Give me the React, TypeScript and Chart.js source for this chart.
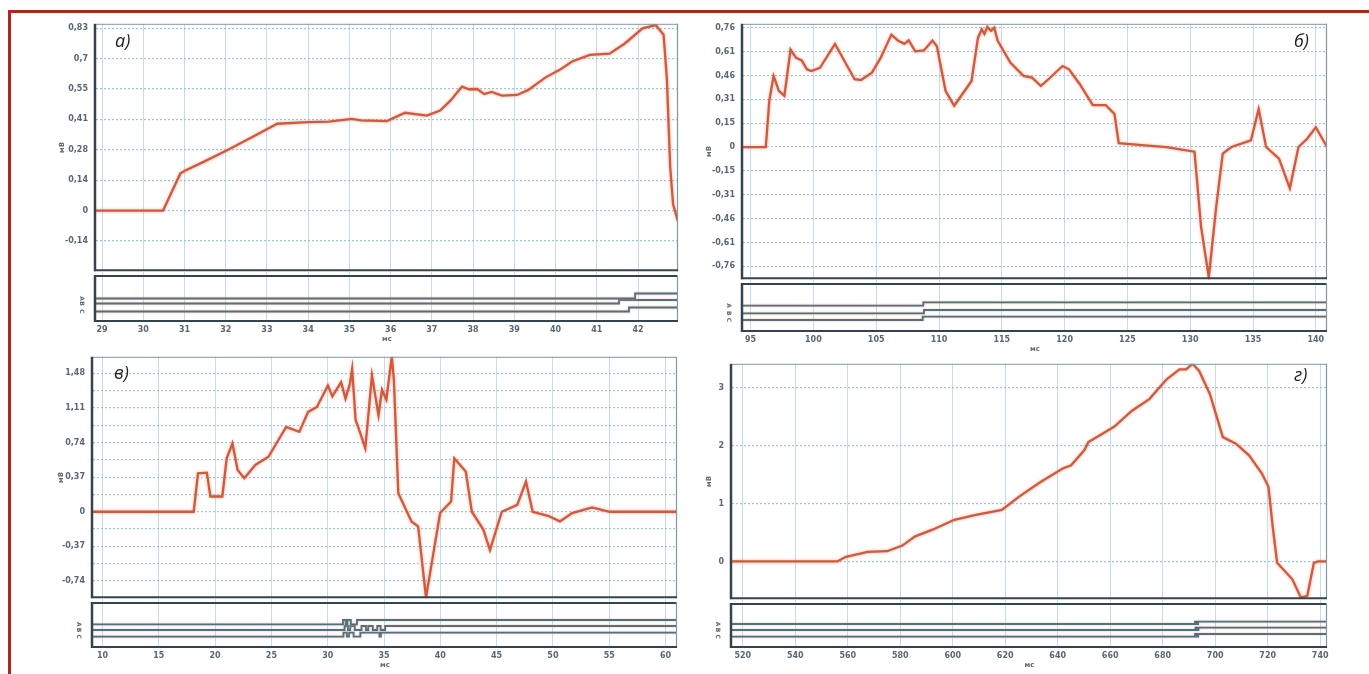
import React, { useEffect, useRef } from 'react';
import { Chart, registerables } from 'chart.js';

Chart.register(...registerables);

// ---------- panel а) ----------
const aTime = [28.85, 30.48, 30.9, 31.01, 31.5, 32.08, 32.6, 33.25, 34.0, 34.5, 35.06, 35.28, 35.91, 36.35, 36.88, 37.2, 37.45, 37.73, 37.9, 38.1, 38.27, 38.45, 38.7, 39.07, 39.34, 39.76, 40.1, 40.4, 40.83, 41.31, 41.68, 42.11, 42.43, 42.62, 42.7, 42.78, 42.85, 42.97];
const aVolt = [0, 0, 0.169, 0.181, 0.225, 0.279, 0.33, 0.395, 0.402, 0.405, 0.417, 0.41, 0.407, 0.445, 0.432, 0.455, 0.5, 0.564, 0.552, 0.553, 0.53, 0.54, 0.523, 0.526, 0.549, 0.606, 0.64, 0.678, 0.708, 0.714, 0.76, 0.829, 0.844, 0.8, 0.6, 0.2, 0.03, -0.05];
const aXTicks = [29, 30, 31, 32, 33, 34, 35, 36, 37, 38, 39, 40, 41, 42];
const aYTicks = [-0.1383, 0, 0.1383, 0.2767, 0.415, 0.5533, 0.6917, 0.83];
const aYLabels = ['-0,14', '0', '0,14', '0,28', '0,41', '0,55', '0,7', '0,83'];
const aChA_t = [28.85, 41.93, 42.97];
const aChA_v = [4.7, 5.7, 5.7];
const aChB_t = [28.85, 41.54, 42.97];
const aChB_v = [3.7, 4.4, 4.4];
const aChC_t = [28.85, 41.78, 42.97];
const aChC_v = [2.1, 2.9, 2.9];

// ---------- panel б) ----------
const bTime = [94.4, 96.21, 96.49, 96.83, 97.25, 97.69, 98.18, 98.62, 99.07, 99.48, 99.83, 100.52, 101.72, 103.28, 103.79, 104.66, 105.35, 106.21, 106.73, 107.24, 107.59, 108.1, 108.8, 109.48, 109.83, 110.52, 111.21, 112.59, 113.1, 113.4, 113.62, 113.85, 114.14, 114.4, 114.66, 115.69, 116.73, 117.41, 118.11, 118.8, 119.83, 120.35, 121.21, 122.24, 123.28, 123.97, 124.31, 126.38, 128.1, 130.34, 130.86, 131.48, 132.07, 132.59, 133.28, 134.83, 135.45, 136.04, 137.07, 137.93, 138.62, 139.31, 140.0, 140.89];
const bVolt = [0, 0, 0.295, 0.453, 0.358, 0.326, 0.621, 0.568, 0.552, 0.495, 0.484, 0.505, 0.657, 0.432, 0.427, 0.474, 0.568, 0.716, 0.678, 0.657, 0.68, 0.61, 0.615, 0.678, 0.642, 0.358, 0.263, 0.421, 0.695, 0.75, 0.72, 0.765, 0.74, 0.76, 0.678, 0.537, 0.453, 0.442, 0.389, 0.438, 0.516, 0.495, 0.4, 0.267, 0.267, 0.21, 0.025, 0.01, 0, -0.03, -0.505, -0.83, -0.379, -0.042, 0, 0.042, 0.242, 0, -0.074, -0.263, 0, 0.053, 0.126, 0];
const bXTicks = [95, 100, 105, 110, 115, 120, 125, 130, 135, 140];
const bYTicks = [-0.76, -0.608, -0.456, -0.304, -0.152, 0, 0.152, 0.304, 0.456, 0.608, 0.76];
const bYLabels = ['-0,76', '-0,61', '-0,46', '-0,31', '-0,15', '0', '0,15', '0,31', '0,46', '0,61', '0,76'];
const bChA_t = [94.4, 108.75, 140.89];
const bChA_v = [5.06, 5.71, 5.71];
const bChB_t = [94.4, 108.8, 140.89];
const bChB_v = [3.6, 4.23, 4.23];
const bChC_t = [94.4, 108.7, 140.89];
const bChC_v = [2.31, 2.94, 2.94];

// ---------- panel в) ----------
const vTime = [9.16, 18.1, 18.48, 19.27, 19.58, 20.64, 21.03, 21.54, 22.0, 22.59, 23.57, 24.74, 26.31, 27.48, 28.26, 29.04, 30.02, 30.41, 31.19, 31.58, 31.97, 32.17, 32.48, 32.75, 33.34, 33.93, 34.51, 34.82, 35.21, 35.69, 35.88, 36.27, 37.44, 38.03, 38.73, 39.98, 40.96, 41.24, 42.26, 42.8, 43.82, 44.41, 45.46, 46.83, 47.61, 48.2, 49.57, 50.62, 51.71, 53.47, 55.04, 61.02];
const vVolt = [0, 0, 0.411, 0.418, 0.163, 0.163, 0.571, 0.73, 0.447, 0.358, 0.5, 0.588, 0.907, 0.854, 1.067, 1.12, 1.35, 1.233, 1.386, 1.209, 1.368, 1.527, 0.978, 0.89, 0.677, 1.457, 1.031, 1.304, 1.198, 1.66, 1.403, 0.198, -0.103, -0.156, -0.918, -0.014, 0.11, 0.571, 0.429, 0, -0.191, -0.411, 0, 0.074, 0.322, 0, -0.043, -0.103, -0.014, 0.046, 0, 0];
const vXTicks = [10, 15, 20, 25, 30, 35, 40, 45, 50, 55, 60];
const vYTicks = [-0.74, -0.555, -0.37, -0.185, 0, 0.185, 0.37, 0.555, 0.74, 0.925, 1.11, 1.295, 1.48];
const vYLabels = ['-0,74', '', '-0,37', '', '0', '', '0,37', '', '0,74', '', '1,11', '', '1,48'];
const vChA_t = [9.16, 31.36, 31.6, 31.75, 32.05, 32.6, 61.02];
const vChA_v = [4.84, 5.71, 4.84, 5.71, 4.84, 5.71, 5.71];
const vChB_t = [9.16, 31.5, 31.8, 32.0, 32.4, 33.0, 33.4, 33.6, 34.0, 34.4, 34.7, 35.1, 61.02];
const vChB_v = [3.67, 4.49, 3.67, 4.49, 3.67, 4.49, 3.67, 4.49, 3.67, 4.49, 3.67, 4.49, 4.49];
const vChC_t = [9.16, 31.4, 31.7, 31.9, 32.3, 32.9, 34.6, 34.72, 61.02];
const vChC_v = [2.31, 3.12, 2.31, 3.12, 2.31, 3.12, 2.31, 3.12, 3.12];

// ---------- panel г) ----------
const gTime = [515.9, 556.0, 559.3, 567.6, 575.0, 580.8, 585.7, 592.3, 600.6, 608.8, 618.7, 625.3, 633.6, 641.9, 645.1, 650.1, 651.7, 655.9, 661.6, 668.3, 674.9, 681.5, 686.4, 688.9, 691.4, 693.9, 698.0, 702.9, 707.9, 712.9, 717.8, 720.3, 721.9, 723.6, 729.4, 732.6, 735.1, 737.6, 739.2, 742.6];
const gVolt = [0, 0, 0.08, 0.165, 0.177, 0.274, 0.434, 0.548, 0.719, 0.804, 0.89, 1.118, 1.375, 1.603, 1.66, 1.917, 2.059, 2.173, 2.327, 2.601, 2.801, 3.143, 3.314, 3.314, 3.41, 3.286, 2.886, 2.145, 2.031, 1.831, 1.517, 1.289, 0.605, -0.023, -0.308, -0.622, -0.593, -0.023, 0, 0];
const gXTicks = [520, 540, 560, 580, 600, 620, 640, 660, 680, 700, 720, 740];
const gYTicks = [0, 1, 2, 3];
const gYLabels = ['0', '1', '2', '3'];
const gChA_t = [515.9, 692.3, 692.9, 693.5, 742.6];
const gChA_v = [5.0, 5.5, 5.0, 5.5, 5.5];
const gChB_t = [515.9, 692.5, 693.0, 693.6, 742.6];
const gChB_v = [3.75, 4.25, 3.75, 4.25, 4.25];
const gChC_t = [515.9, 692.3, 692.9, 693.5, 742.6];
const gChC_v = [2.35, 2.92, 2.35, 2.92, 2.92];

const channelNames = ['A', 'B', 'C'];

// ---------- look ----------
const AXIS_W = 60;
const PAD = 12;
const X_BAND = 28;
const CURVE = '#d3593c';
const LOGIC = '#52707d';
const GRID_V = '#c6dbe7';
const GRID_H = '#9fc4d9';
const DARK = '#34444f';
const THIN = '#7f96a4';
const LABEL = '#5a6772';
const TICK_FONT = { family: '"DejaVu Sans", Arial, sans-serif', size: 8, weight: 'bold' as const, lineHeight: 1.2 };
const TITLE_FONT = { family: '"DejaVu Sans", Arial, sans-serif', size: 7, weight: 'bold' as const, lineHeight: 1.2 };

// soft halo drawn around each trace
const glowPlugin = {
  id: 'glow',
  beforeDatasetDraw(chart: any, _args: any, opts: any) {
    const ctx = chart.ctx;
    ctx.save();
    ctx.shadowColor = opts.color;
    ctx.shadowBlur = opts.blur;
  },
  afterDatasetDraw(chart: any) {
    chart.ctx.restore();
  },
};

// plot borders, the double separator and the A/B/C channel marks
const framePlugin = {
  id: 'frame',
  afterDraw(chart: any, _args: any, opts: any) {
    const { ctx, chartArea: a } = chart;
    const line = (x1: number, y1: number, x2: number, y2: number, w: number, c: string) => {
      ctx.beginPath();
      ctx.lineWidth = w;
      ctx.strokeStyle = c;
      ctx.moveTo(x1, y1);
      ctx.lineTo(x2, y2);
      ctx.stroke();
    };
    ctx.save();
    if (opts.kind === 'main') {
      line(a.left, a.top + 0.5, a.right, a.top + 0.5, 1, THIN);
      line(a.right - 0.5, a.top, a.right - 0.5, a.bottom, 1.2, THIN);
      line(a.left - 2, a.bottom - 1, a.right, a.bottom - 1, 2, DARK);
      line(a.left - 1, a.top, a.left - 1, a.bottom, 2.5, DARK);
    } else {
      line(a.left - 2, a.top + 4, a.right, a.top + 4, 2, DARK);
      line(a.right - 0.5, a.top + 3, a.right - 0.5, a.bottom, 1.2, THIN);
      line(a.left - 2, a.bottom - 1, a.right, a.bottom - 1, 2, DARK);
      line(a.left - 1, a.top + 3, a.left - 1, a.bottom, 2.5, DARK);
      const ys = chart.scales.y;
      ctx.fillStyle = LABEL;
      ctx.font = 'bold 6px "DejaVu Sans", Arial, sans-serif';
      ctx.textAlign = 'center';
      ctx.textBaseline = 'middle';
      (opts.letters || []).forEach((l: any) => {
        ctx.save();
        ctx.translate(a.left - 14, ys.getPixelForValue(l.value));
        ctx.rotate(Math.PI / 2);
        ctx.fillText(l.text, 0, 0);
        ctx.restore();
      });
    }
    ctx.restore();
  },
};

type Box = { L: number; R: number; T: number; MB: number; SB: number };
type PanelDef = {
  tag: string;
  tagX: number;
  tagY: number;
  time: number[];
  volt: number[];
  xMin: number;
  xMax: number;
  xTicks: number[];
  yMin: number;
  yMax: number;
  yTicks: number[];
  yLabels: string[];
  titlePad: number;
  channels: { t: number[]; v: number[] }[];
  box: Box;
};

const panels: PanelDef[] = [
  {
    tag: 'а)', tagX: 115, tagY: 31,
    time: aTime, volt: aVolt, xMin: 28.854, xMax: 42.97, xTicks: aXTicks,
    yMin: -0.2757, yMax: 0.8496, yTicks: aYTicks, yLabels: aYLabels, titlePad: 21.8,
    channels: [{ t: aChA_t, v: aChA_v }, { t: aChB_t, v: aChB_v }, { t: aChC_t, v: aChC_v }],
    box: { L: 96, R: 678, T: 23, MB: 272, SB: 322 },
  },
  {
    tag: 'б)', tagX: 1294, tagY: 31,
    time: bTime, volt: bVolt, xMin: 94.395, xMax: 140.89, xTicks: bXTicks,
    yMin: -0.842, yMax: 0.785, yTicks: bYTicks, yLabels: bYLabels, titlePad: 22.3,
    channels: [{ t: bChA_t, v: bChA_v }, { t: bChB_t, v: bChB_v }, { t: bChC_t, v: bChC_v }],
    box: { L: 743, R: 1327, T: 23, MB: 280, SB: 332 },
  },
  {
    tag: 'в)', tagX: 114, tagY: 363,
    time: vTime, volt: vVolt, xMin: 9.156, xMax: 61.02, xTicks: vXTicks,
    yMin: -0.924, yMax: 1.656, yTicks: vYTicks, yLabels: vYLabels, titlePad: 23.5,
    channels: [{ t: vChA_t, v: vChA_v }, { t: vChB_t, v: vChB_v }, { t: vChC_t, v: vChC_v }],
    box: { L: 93, R: 677, T: 356, MB: 599, SB: 648 },
  },
  {
    tag: 'г)', tagX: 1294, tagY: 365,
    time: gTime, volt: gVolt, xMin: 515.9, xMax: 742.6, xTicks: gXTicks,
    yMin: -0.651, yMax: 3.41, yTicks: gYTicks, yLabels: gYLabels, titlePad: 33.3,
    channels: [{ t: gChA_t, v: gChA_v }, { t: gChB_t, v: gChB_v }, { t: gChC_t, v: gChC_v }],
    box: { L: 732, R: 1327, T: 363, MB: 600, SB: 648 },
  },
];

function xScale(p: PanelDef, withLabels: boolean): any {
  return {
    type: 'linear',
    min: p.xMin,
    max: p.xMax,
    afterBuildTicks: (s: any) => {
      s.ticks = p.xTicks.map((value) => ({ value }));
    },
    ticks: withLabels
      ? {
          display: true,
          autoSkip: false,
          maxRotation: 0,
          padding: 3.5,
          font: TICK_FONT,
          color: LABEL,
          callback: (_v: any, i: number) => String(p.xTicks[i]),
        }
      : { display: false },
    grid: { color: GRID_V, lineWidth: 1, drawTicks: false },
    border: { display: false },
    title: withLabels
      ? { display: true, text: 'мс', font: TITLE_FONT, color: LABEL, padding: { top: 0, bottom: 6.8 } }
      : { display: false },
    afterFit: (s: any) => {
      s.height = withLabels ? X_BAND : 0;
    },
  };
}

function MainPlot({ p }: { p: PanelDef }) {
  const ref = useRef<HTMLCanvasElement>(null);
  const { L, R, T, MB } = p.box;
  const w = AXIS_W + (R - L) + PAD;
  const h = PAD + (MB - T) + PAD;
  useEffect(() => {
    const chart = new Chart(ref.current as HTMLCanvasElement, {
      type: 'line',
      data: {
        datasets: [
          {
            data: p.time.map((x, i) => ({ x, y: p.volt[i] })),
            borderColor: CURVE,
            borderWidth: 2.3,
            pointRadius: 0,
            tension: 0,
          },
        ],
      },
      options: {
        animation: false,
        responsive: false,
        events: [],
        layout: { padding: { top: PAD, right: PAD, bottom: PAD, left: 0 } },
        plugins: {
          legend: { display: false },
          tooltip: { enabled: false },
          glow: { color: 'rgba(226,140,115,0.7)', blur: 3 },
          frame: { kind: 'main' },
        } as any,
        scales: {
          x: xScale(p, false),
          y: {
            type: 'linear',
            min: p.yMin,
            max: p.yMax,
            afterBuildTicks: (s: any) => {
              s.ticks = p.yTicks.map((value) => ({ value }));
            },
            ticks: {
              autoSkip: false,
              padding: 8,
              font: TICK_FONT,
              color: LABEL,
              callback: (_v: any, i: number) => p.yLabels[i],
            },
            grid: { color: GRID_H, lineWidth: 1.2, drawTicks: false },
            border: { display: false, dash: [2, 2] },
            title: { display: true, text: 'мВ', font: TITLE_FONT, color: LABEL, padding: { top: p.titlePad, bottom: 0 } },
            afterFit: (s: any) => {
              s.width = AXIS_W;
            },
          } as any,
        },
      },
      plugins: [glowPlugin, framePlugin],
    });
    return () => chart.destroy();
  }, [p]);
  return (
    <canvas
      ref={ref}
      width={w}
      height={h}
      style={{ position: 'absolute', left: L - AXIS_W, top: T - PAD, width: w, height: h }}
    />
  );
}

function LogicStrip({ p }: { p: PanelDef }) {
  const ref = useRef<HTMLCanvasElement>(null);
  const { L, R, MB, SB } = p.box;
  const w = AXIS_W + (R - L) + PAD;
  const h = PAD + (SB - MB) + X_BAND;
  useEffect(() => {
    const chart = new Chart(ref.current as HTMLCanvasElement, {
      type: 'line',
      data: {
        datasets: p.channels.map((c) => ({
          data: c.t.map((x, i) => ({ x, y: c.v[i] })),
          borderColor: LOGIC,
          borderWidth: 1.8,
          pointRadius: 0,
          stepped: true,
        })),
      },
      options: {
        animation: false,
        responsive: false,
        events: [],
        layout: { padding: { top: PAD, right: PAD, bottom: 0, left: 0 } },
        plugins: {
          legend: { display: false },
          tooltip: { enabled: false },
          glow: { color: 'rgba(238,165,145,0.8)', blur: 2 },
          frame: {
            kind: 'strip',
            letters: p.channels.map((c, i) => ({ text: channelNames[i], value: c.v[0] })),
          },
        } as any,
        scales: {
          x: xScale(p, true),
          y: {
            type: 'linear',
            min: 0,
            max: 10,
            ticks: { display: false },
            grid: { display: false },
            border: { display: false },
            afterFit: (s: any) => {
              s.width = AXIS_W;
            },
          } as any,
        },
      },
      plugins: [glowPlugin, framePlugin],
    });
    return () => chart.destroy();
  }, [p]);
  return (
    <canvas
      ref={ref}
      width={w}
      height={h}
      style={{ position: 'absolute', left: L - AXIS_W, top: MB - PAD, width: w, height: h }}
    />
  );
}

export default function App() {
  return (
    <div
      style={{
        position: 'fixed',
        left: 0,
        top: 0,
        width: 1369,
        height: 674,
        background: '#ffffff',
        overflow: 'hidden',
      }}
    >
      <div style={{ position: 'absolute', left: 8, top: 10, width: 1361, height: 3, background: '#ab2a1d' }} />
      <div style={{ position: 'absolute', left: 8, top: 10, width: 3, height: 664, background: '#ab2a1d' }} />
      {panels.map((p) => (
        <React.Fragment key={p.tag}>
          <MainPlot p={p} />
          <LogicStrip p={p} />
          <span
            style={{
              position: 'absolute',
              left: p.tagX,
              top: p.tagY,
              fontFamily: '"Open Sans", "Noto Sans", sans-serif',
              fontStyle: 'italic',
              fontSize: 18,
              lineHeight: '18px',
              color: '#1e1e1e',
            }}
          >
            {p.tag}
          </span>
        </React.Fragment>
      ))}
    </div>
  );
}
